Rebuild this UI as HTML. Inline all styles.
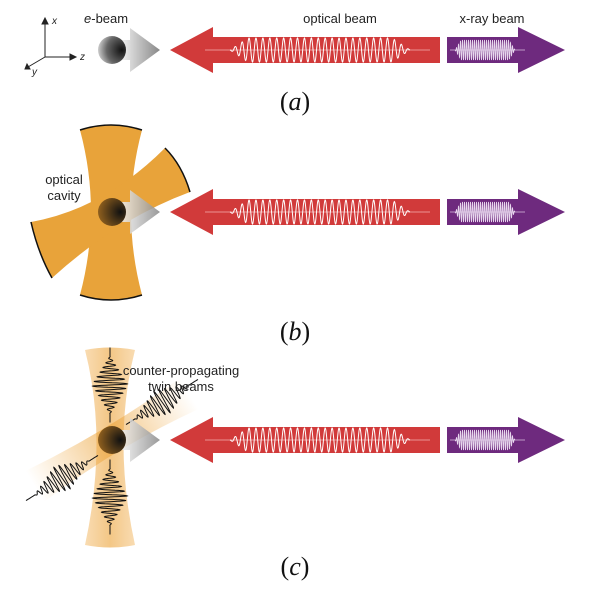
<!DOCTYPE html>
<html><head><meta charset="utf-8"><style>
body{margin:0;background:#fff}
svg{display:block}
text{font-family:"Liberation Sans","DejaVu Sans",sans-serif;fill:#222}
.lab{font-family:"Liberation Serif",serif;font-size:26px;fill:#111}
</style></head><body>
<svg id="fig" width="591" height="591" viewBox="0 0 591 591">
<defs>
<radialGradient id="sph" cx="0.85" cy="0.5" r="0.9">
<stop offset="0" stop-color="#111"/><stop offset="0.6" stop-color="#666"/><stop offset="1" stop-color="#ddd"/></radialGradient>
<linearGradient id="gr" x1="0" x2="1"><stop offset="0" stop-color="#eee"/><stop offset="1" stop-color="#888"/></linearGradient>
<radialGradient id="sph2" cx="0.8" cy="0.5" r="0.9"><stop offset="0" stop-color="#111"/><stop offset="1" stop-color="#a06a20"/></radialGradient>
<linearGradient id="gx" x1="0" x2="1"><stop offset="0" stop-color="rgba(240,170,70,0.6)"/><stop offset="0.5" stop-color="rgba(235,160,50,0.85)"/><stop offset="1" stop-color="rgba(240,170,70,0.6)"/></linearGradient>
<linearGradient id="gd" x1="0" x2="1"><stop offset="0" stop-color="rgba(240,170,70,0)"/><stop offset="0.5" stop-color="rgba(235,160,50,0.6)"/><stop offset="1" stop-color="rgba(240,170,70,0)"/></linearGradient>
</defs>
<!-- axes icon -->
<g stroke="#222" stroke-width="1" fill="#222">
<line x1="45" y1="57" x2="45" y2="22"/><polygon points="42,24 48,24 45,18"/>
<line x1="45" y1="57" x2="72" y2="57"/><polygon points="70,54 70,60 76,57"/>
<line x1="45" y1="57" x2="28" y2="67"/><polygon points="27,64 30,69 25,69"/>
</g>
<text x="52" y="24" font-size="10" font-style="italic">x</text>
<text x="80" y="60" font-size="10" font-style="italic">z</text>
<text x="32" y="75" font-size="10" font-style="italic">y</text>
<text x="84" y="23" font-size="13"><tspan font-style="italic">e</tspan>-beam</text>
<text x="340" y="23" font-size="13" text-anchor="middle">optical beam</text>
<text x="492" y="23" font-size="13" text-anchor="middle">x-ray beam</text>
<!-- cavity row b -->
<g>
<path d="M80,130 Q111,120 142,130 Q120,212 142,295 Q111,305 80,295 Q102,212 80,130Z" fill="#e8a33a"/>
<path d="M31,222 Q104,209 165,148 Q182,165 190,192 Q117,219 52,278 Q38,253 31,222Z" fill="#e8a33a"/>
<path d="M80,130 Q111,120 142,130 M80,295 Q111,305 142,295 M165,148 Q182,165 190,192 M52,278 Q38,253 31,222" stroke="#111" stroke-width="1.5" fill="none"/>
</g>
<text x="64" y="184" font-size="13" text-anchor="middle">optical</text>
<text x="64" y="200" font-size="13" text-anchor="middle">cavity</text>
<!-- twin beams row c -->
<g>
<path d="M85,350 Q110,345 135,350 Q112,440 135,545 Q110,550 85,545 Q108,440 85,350Z" fill="url(#gx)" opacity="0.7"/>
<path d="M22,422 Q112,430 202,422 L202,458 Q112,448 22,458Z" fill="url(#gd)" transform="rotate(-31 112 440)"/>
<g id="twin" stroke="#111" stroke-width="1" fill="none"></g>
</g>
<text x="181" y="375" font-size="13" text-anchor="middle">counter-propagating</text>
<text x="181" y="391" font-size="13" text-anchor="middle">twin beams</text>
<g id="rows"></g>
<text x="295" y="110" class="lab" text-anchor="middle">(<tspan font-style="italic">a</tspan>)</text>
<text x="295" y="340" class="lab" text-anchor="middle">(<tspan font-style="italic">b</tspan>)</text>
<text x="295" y="575" class="lab" text-anchor="middle">(<tspan font-style="italic">c</tspan>)</text>
</svg>
<script>
const rowsY=[50,212,440];
const ns="http://www.w3.org/2000/svg";
const g=document.getElementById('rows');
function mk(tag,attrs,parent){const e=document.createElementNS(ns,tag);for(const k in attrs)e.setAttribute(k,attrs[k]);(parent||g).appendChild(e);return e;}
function wave(x0,x1,y,amp,n){let p=[];const N=600;for(let i=0;i<=N;i++){const t=i/N;const x=x0+(x1-x0)*t;let env=Math.min(1,Math.min(t,1-t)*10);env=Math.max(0,env);p.push(x.toFixed(1)+','+(y+amp*env*Math.sin(2*Math.PI*n*t)).toFixed(1));}return p.join(' ');}
rowsY.forEach((y,i)=>{
 const grey=mk('polygon',{points:`${122},${y-10} ${130},${y-10} ${130},${y-22} ${160},${y} ${130},${y+22} ${130},${y+10} ${122},${y+10}`,fill:'url(#gr)',opacity:i?0.85:1});
 
 
 const s=mk('circle',{cx:112,cy:y,r:14,fill:i?'url(#sph2)':'url(#sph)'});
 
 
 const r=mk('polygon',{points:`170,${y} 213,${y-23} 213,${y-13} 440,${y-13} 440,${y+13} 213,${y+13} 213,${y+23}`,fill:'#d13a3a'});
 
 
 mk('line',{x1:205,y1:y,x2:430,y2:y,stroke:'#f3b0b0','stroke-width':0.8});
 mk('polyline',{points:wave(230,410,y,12,26),fill:'none',stroke:'#fff','stroke-width':1});
 const p=mk('polygon',{points:`447,${y-13} 518,${y-13} 518,${y-23} 565,${y} 518,${y+23} 518,${y+13} 447,${y+13}`,fill:'#6e2a7e'});
 
 
 mk('line',{x1:450,y1:y,x2:525,y2:y,stroke:'#d9c0e0','stroke-width':0.8});
 mk('polyline',{points:wave(455,515,y,10,30),fill:'none',stroke:'#e8d8ee','stroke-width':0.8});
});
const tw=document.getElementById('twin');
function pkt(cx,cy,ang,len,amp,n){let p=[];const N=400;for(let i=0;i<=N;i++){const t=i/N;const u=(t-0.5)*len;const env=Math.max(0,1-Math.abs(t-0.5)*2.6);const v=amp*env*Math.sin(2*Math.PI*n*t);const c=Math.cos(ang),s=Math.sin(ang);p.push((cx+u*c-v*s).toFixed(1)+','+(cy+u*s+v*c).toFixed(1));}mk('polyline',{points:p.join(' ')},tw);}
pkt(110,385,Math.PI/2,75,18,16);
pkt(110,497,Math.PI/2,75,18,16);
pkt(162,402,-0.56,85,14,16);
pkt(62,478,-0.56,85,14,16);
</script>
</body></html>
